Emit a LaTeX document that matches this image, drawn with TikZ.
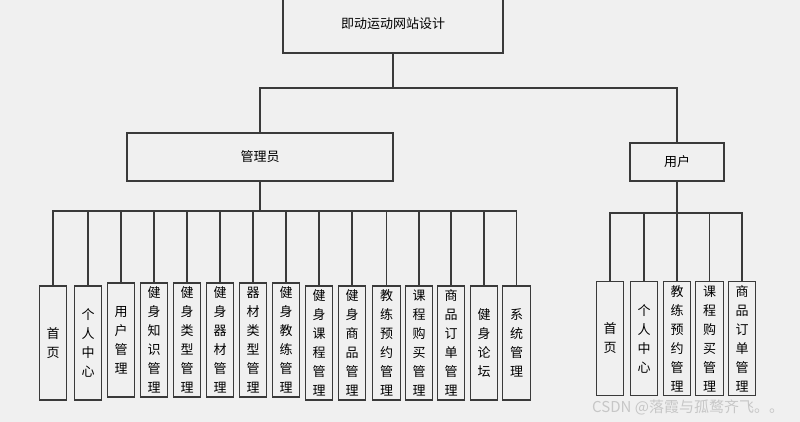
\documentclass[tikz,border=0pt]{standalone}
\usepackage{fontspec}
\newfontfamily\cjk{Noto Sans CJK SC}
\definecolor{bg}{HTML}{F0F0F0}
\definecolor{ln}{HTML}{3A3A3A}
\begin{document}
\begin{tikzpicture}[x=1pt,y=-1pt,
  box/.style={draw=ln,line width=1.3pt,fill=bg,inner sep=0pt,font={\cjk\fontsize{13}{19}\selectfont}},
  vbox/.style={box,minimum width=27.5,minimum height=114,align=center},
  conn/.style={draw=ln,line width=1.3pt}]
\fill[bg] (0,0) rectangle (800,422);
\useasboundingbox (0,0) rectangle (800,422);
% top
\node[box,minimum width=220,minimum height=58] (top) at (393,24) {即动运动网站设计};
\node[box,minimum width=266,minimum height=48] (admin) at (260,157) {管理员};
\node[box,minimum width=94,minimum height=38] (user) at (677,162) {用户};
\coordinate (j1) at (393,88);
\draw[conn] (top.south) -- (j1);
\draw[conn] (admin.north) |- (j1) -| (user.north);
% admin children
\coordinate (abus) at (260,211);
\draw[conn] (admin.south) -- (abus);
\foreach \n/\x/\y/\t in {a1/53/343/首\\页, a2/88/343/个\\人\\中\\心, a3/121/340/用\\户\\管\\理,
  a4/154/340/健\\身\\知\\识\\管\\理, a5/187/340/健\\身\\类\\型\\管\\理, a6/220/340/健\\身\\器\\材\\管\\理,
  a7/253/340/器\\材\\类\\型\\管\\理, a8/286/340/健\\身\\教\\练\\管\\理, a9/319/343/健\\身\\课\\程\\管\\理,
  a10/352/343/健\\身\\商\\品\\管\\理, a11/386.5/343/教\\练\\预\\约\\管\\理, a12/419/343/课\\程\\购\\买\\管\\理,
  a13/451/343/商\\品\\订\\单\\管\\理, a14/484/343/健\\身\\论\\坛, a15/516.5/343/系\\统\\管\\理}{
  \node[vbox] (\n) at (\x,\y) {\t};
  \draw[conn] (\n.north) |- (abus);
}
% user children
\coordinate (ubus) at (677,213);
\draw[conn] (user.south) -- (ubus);
\foreach \n/\x/\t in {u1/610/首\\页, u2/644/个\\人\\中\\心, u3/677/教\\练\\预\\约\\管\\理,
  u4/709.5/课\\程\\购\\买\\管\\理, u5/742/商\\品\\订\\单\\管\\理}{
  \node[vbox] (\n) at (\x,338.5) {\t};
  \draw[conn] (\n.north) |- (ubus);
}
\node[anchor=west,inner sep=0pt,text=black!22,font={\cjk\fontsize{15}{15}\selectfont}] (wm) at (592,407) {CSDN @落霞与孤鹜齐飞。。};
\end{tikzpicture}
\end{document}
